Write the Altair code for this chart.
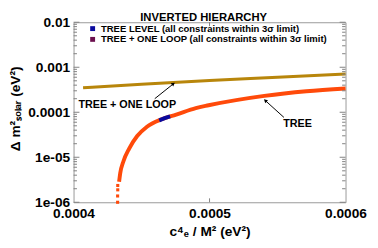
import altair as alt
import pandas as pd

# ---- data ----
# TREE curve (orange), continuous part
tree_x = [0.0004335, 0.0004343, 0.0004367, 0.0004408, 0.0004468, 0.000454, 0.0004647,
          0.0004755, 0.0004899, 0.0004993, 0.0005403, 0.0005712, 0.0006]
tree_y = [2.86e-6, 4.39e-6, 8.16e-6, 1.54e-5, 2.96e-5, 4.78e-5, 7.0e-5,
          8.88e-5, 1.24e-4, 1.43e-4, 2.31e-4, 2.93e-4, 3.38e-4]
# TREE curve, isolated points at the bottom
tree_dots_x = [0.0004325, 0.0004325, 0.0004324, 0.0004324]
tree_dots_y = [2.36e-6, 1.89e-6, 1.38e-6, 1.0e-6]
# TREE LEVEL points within 3 sigma (blue)
blue_x = [0.000463, 0.000467, 0.000471]
blue_y = [6.6e-5, 7.4e-5, 8.1e-5]
# TREE + ONE LOOP curve (gold)
loop_x = [0.000407, 0.00045, 0.0005, 0.00055, 0.0006]
loop_y = [3.5e-4, 4.2e-4, 5.1e-4, 6.0e-4, 7.1e-4]

x_ticks = [0.0004, 0.0005, 0.0006]
y_tick_values = [1e-6, 1e-5, 1e-4, 1e-3, 1e-2]
y_tick_labels = ["1e-06", "1e-05", "0.0001", "0.001", "0.01"]
y_minor = [k * v for v in y_tick_values[:-1] for k in range(2, 10)]

legend_labels = ["TREE LEVEL (all constraints within 3\u03c3  limit)",
                 "TREE + ONE LOOP (all constraints within 3\u03c3 limit)"]
legend_colors = ["#0a0a9e", "#6b0f4e"]

title_text = "INVERTED HIERARCHY"
x_title = "c\u2074\u2091 / M\u00b2 (eV\u00b2)"
y_title = "\u0394 m\u00b2\u209b\u2092\u2097\u2090\u1d63 (eV\u00b2)"

ann_loop = {"x": 0.0004036, "y": 1.43e-4, "text": "TREE + ONE LOOP"}
ann_tree = {"x": 0.0005647, "y": 5.5e-5, "text": "TREE"}
arrow_loop = {"x": [0.0004597, 0.0004734], "y": [2.0e-4, 4.28e-4], "angle": 51}
arrow_tree = {"x": [0.0005547, 0.000541], "y": [7.69e-5, 1.82e-4], "angle": 312}

# ---- layout ----
W, H = 278, 184
FONT = "Liberation Sans"
ORANGE = "#ff4a0a"
GOLD = "#b8860b"
TICK = "#808080"

label_expr = ""
for v, lab in zip(y_tick_values[:-1], y_tick_labels[:-1]):
    label_expr += f"datum.value < {v * 3} ? '{lab}' : "
label_expr += f"'{y_tick_labels[-1]}'"

xs = alt.Scale(domain=[0.0004, 0.0006], nice=False, zero=False)
ys = alt.Scale(type="log", domain=[1e-6, 1e-2], nice=False)

xaxis = alt.Axis(values=x_ticks, format=".4f", ticks=False, domain=False, grid=False,
                 labelFont=FONT, labelFontWeight="bold", labelFontSize=14, labelColor="black",
                 labelPadding=5, labelFlush=False, labelOverlap=False,
                 title=x_title, titleFont=FONT, titleFontWeight="bold", titleFontSize=14,
                 titleColor="black", titleX=139, titleY=34, titleBaseline="alphabetic",
                 titleAnchor="middle")
yaxis = alt.Axis(values=y_tick_values, labelExpr=label_expr, ticks=False, domain=False, grid=False,
                 labelFont=FONT, labelFontWeight="bold", labelFontSize=14, labelColor="black",
                 labelPadding=4, labelFlush=False, labelOverlap=False,
                 title=y_title, titleFont=FONT, titleFontWeight="bold", titleFontSize=14,
                 titleColor="black", titleAngle=270, titleX=-55, titleY=88,
                 titleBaseline="alphabetic", titleAlign="center")

X = alt.X("x:Q", scale=xs, axis=xaxis)
Y = alt.Y("y:Q", scale=ys, axis=yaxis)

tree_df = pd.DataFrame({"x": tree_x, "y": tree_y})
dots_df = pd.DataFrame({"x": tree_dots_x, "y": tree_dots_y})
blue_df = pd.DataFrame({"x": blue_x, "y": blue_y})
loop_df = pd.DataFrame({"x": loop_x, "y": loop_y})

tree = alt.Chart(tree_df).mark_line(color=ORANGE, strokeWidth=4, interpolate="monotone").encode(x=X, y=Y)
dots = alt.Chart(dots_df).mark_square(color=ORANGE, size=10, opacity=1).encode(x=X, y=Y)
blue = alt.Chart(blue_df).mark_line(color=legend_colors[0], strokeWidth=4).encode(x=X, y=Y)
loop = alt.Chart(loop_df).mark_line(color=GOLD, strokeWidth=3, interpolate="monotone").encode(x=X, y=Y)

# ticks (inward, on all four sides)
ymaj = pd.DataFrame({"y": y_tick_values})
ymin = pd.DataFrame({"y": y_minor})
xmaj = pd.DataFrame({"x": x_ticks[1:2]})
tick_layers = [
    alt.Chart(ymaj).mark_rule(color=TICK).encode(y=Y, x=alt.value(0), x2=alt.value(6)),
    alt.Chart(ymaj).mark_rule(color=TICK).encode(y=Y, x=alt.value(W - 6), x2=alt.value(W)),
    alt.Chart(ymin).mark_rule(color=TICK).encode(y=Y, x=alt.value(0), x2=alt.value(3.5)),
    alt.Chart(ymin).mark_rule(color=TICK).encode(y=Y, x=alt.value(W - 3.5), x2=alt.value(W)),
    alt.Chart(xmaj).mark_rule(color=TICK).encode(x=X, y=alt.value(H - 4), y2=alt.value(H)),
    alt.Chart(xmaj).mark_rule(color=TICK).encode(x=X, y=alt.value(0), y2=alt.value(4)),
]


def arrow(a):
    df = pd.DataFrame({"x": [a["x"][0]], "y": [a["y"][0]], "x2": [a["x"][1]], "y2": [a["y"][1]]})
    line = alt.Chart(df).mark_rule(color="black", strokeWidth=1).encode(
        x=X, y=Y, x2="x2:Q", y2="y2:Q")
    head_df = pd.DataFrame({"x": [a["x"][1]], "y": [a["y"][1]]})
    head = alt.Chart(head_df).mark_point(shape="triangle-up", filled=True, color="black",
                                         size=18, angle=a["angle"], opacity=1).encode(x=X, y=Y)
    return [line, head]


ann_text2 = alt.Chart(pd.DataFrame([ann_tree])).mark_text(
    font=FONT, fontWeight="bold", fontSize=11, color="black", align="center",
    baseline="middle").encode(x=X, y=Y, text="text:N")
ann_text1 = alt.Chart(pd.DataFrame([ann_loop])).mark_text(
    font=FONT, fontWeight="bold", fontSize=11, color="black", align="left",
    baseline="middle").encode(x=X, y=Y, text="text:N")

# legend (drawn inside the frame, top-left)
leg_layers = []
for i, (lab, col) in enumerate(zip(legend_labels, legend_colors)):
    ldf = pd.DataFrame({"label": [lab]})
    yy = 6.5 + 11 * i
    leg_layers.append(alt.Chart(ldf).mark_square(color=col, size=25, opacity=1).encode(
        x=alt.value(19.5), y=alt.value(yy)))
    leg_layers.append(alt.Chart(ldf).mark_text(font=FONT, fontWeight="bold", fontSize=9.7,
                                               color="black", align="left", baseline="middle").encode(
        x=alt.value(28), y=alt.value(yy), text="label:N"))

title = alt.Chart(pd.DataFrame({"t": [title_text]})).mark_text(
    font=FONT, fontWeight="bold", fontSize=11.5, color="black", align="center",
    baseline="alphabetic").encode(x=alt.value(133), y=alt.value(-1.5), text="t:N")

layers = [loop, tree, dots, blue] + tick_layers + [ann_text1, ann_text2] + \
    arrow(arrow_loop) + arrow(arrow_tree) + leg_layers + [title]

chart = alt.layer(*layers).properties(
    width=W, height=H,
    autosize=alt.AutoSizeParams(type="none"),
    padding={"left": 67, "top": 12, "right": 25, "bottom": 36},
).configure_view(stroke="#999999", strokeWidth=1)

chart.save("out.html", embed_options={"renderer": "svg", "actions": False})
